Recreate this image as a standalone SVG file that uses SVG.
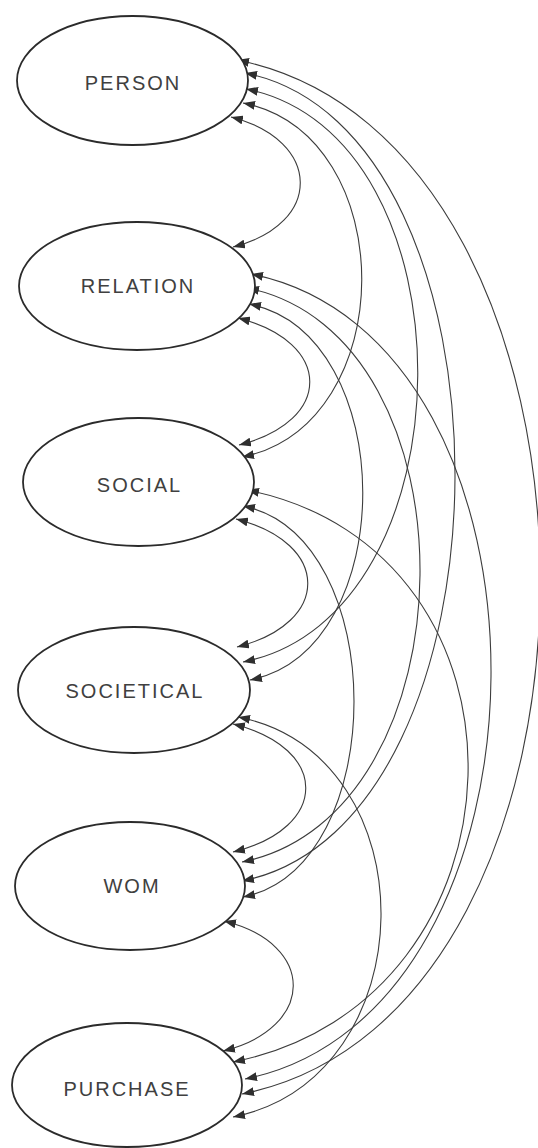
<svg xmlns="http://www.w3.org/2000/svg" width="538" height="1148" viewBox="0 0 538 1148">
  <style>
    .node ellipse { fill: #ffffff; stroke: #2b2b2b; stroke-width: 1.8; }
    .node text { font-family: "Liberation Sans", Arial, sans-serif; font-size: 20px; letter-spacing: 2px; fill: #404040; text-anchor: middle; }
    #connectors path { fill: none; stroke: #3c3c3c; stroke-width: 1.1; marker-start: url(#arrow); marker-end: url(#arrow); }
  </style>
  <defs>
    <marker id="arrow" viewBox="0 0 12 9" refX="12" refY="4.5" markerWidth="12" markerHeight="9" markerUnits="userSpaceOnUse" orient="auto-start-reverse">
      <path d="M0,0 L12,4.5 L0,9 z" fill="#2f2f2f"/>
    </marker>
  </defs>

  <rect width="538" height="1148" fill="#ffffff"/>

  <!-- double-headed correlation arcs, all bending out to the right -->
  <g id="connectors">
    <path id="person-relation" d="M231,117 C322,140 324,224 233,247"/>
    <path id="person-social" d="M243,103 C402,135 401,425 242,457"/>
    <path id="person-societical" d="M246,89 C477,135 474,616 243,662"/>
    <path id="person-wom" d="M245,73 C527,129 524,825 242,881"/>
    <path id="person-purchase" d="M237,60 C638,140 643,1014 242,1094"/>
    <path id="relation-social" d="M238,318 C333,342 334,421 239,445"/>
    <path id="relation-societical" d="M249,304 C400,334 401,650 250,680"/>
    <path id="relation-wom" d="M247,288 C481,335 476,815 242,862"/>
    <path id="relation-purchase" d="M251,274 C575,339 569,1014 245,1079"/>
    <path id="social-societical" d="M236,519 C331,543 332,623 237,647"/>
    <path id="social-wom" d="M243,506 C391,536 391,867 243,897"/>
    <path id="social-purchase" d="M247,490 C551,551 537,1001 233,1062"/>
    <path id="societical-wom" d="M233,724 C330,748 330,828 233,852"/>
    <path id="societical-purchase" d="M238,717 C432,756 427,1078 233,1117"/>
    <path id="wom-purchase" d="M224,921 C317,944 316,1028 223,1051"/>
  </g>

  <g id="node-person" class="node">
    <ellipse cx="132.5" cy="80.5" rx="115.5" ry="64.5"/>
    <text x="133" y="90">PERSON</text>
  </g>
  <g id="node-relation" class="node">
    <ellipse cx="137" cy="286" rx="118" ry="64"/>
    <text x="138" y="293">RELATION</text>
  </g>
  <g id="node-social" class="node">
    <ellipse cx="138.5" cy="482" rx="115.5" ry="64"/>
    <text x="139.5" y="492">SOCIAL</text>
  </g>
  <g id="node-societical" class="node">
    <ellipse cx="134" cy="690" rx="116" ry="63"/>
    <text x="135" y="698">SOCIETICAL</text>
  </g>
  <g id="node-wom" class="node">
    <ellipse cx="130" cy="886" rx="115" ry="64"/>
    <text x="132" y="893">WOM</text>
  </g>
  <g id="node-purchase" class="node">
    <ellipse cx="127" cy="1085" rx="115" ry="62"/>
    <text x="127" y="1096">PURCHASE</text>
  </g>
</svg>
